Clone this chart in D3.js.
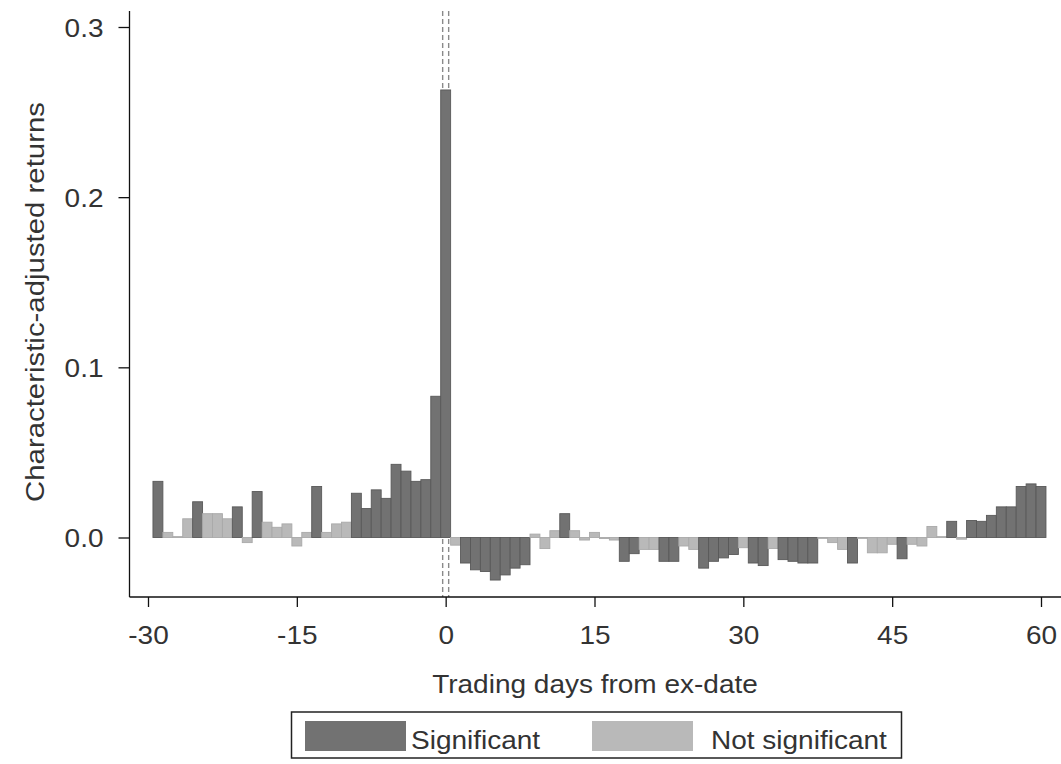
<!DOCTYPE html>
<html>
<head>
<meta charset="utf-8">
<script src="https://cdn.jsdelivr.net/npm/d3@7"></script>
<style>
  body { margin: 0; background: #fff; }
  svg { display: block; font-family: "Liberation Sans", Arial, sans-serif; }
</style>
</head>
<body>
<svg class="chart"></svg>
<script>
// first day shown on the chart, each following value is the next trading day
var firstDay = -29;

// characteristic-adjusted returns, days -29 .. 60
var returns = [
   0.033,  0.003,  0.0005, 0.011,  0.021,  0.014,  0.014,  0.011,  0.018, -0.003,
   0.027,  0.009,  0.006,  0.008, -0.005,  0.003,  0.030,  0.003,  0.008,  0.009,
   0.026,  0.017,  0.028,  0.023,  0.043,  0.039,  0.033,  0.034,  0.083,  0.263,
  -0.0045,-0.015, -0.019, -0.020, -0.025, -0.022, -0.018, -0.016,  0.002, -0.0065,
   0.004,  0.014,  0.004, -0.0015, 0.003, -0.0006,-0.0015,-0.014, -0.0095,-0.007,
  -0.007, -0.014, -0.014, -0.005, -0.007, -0.018, -0.014, -0.012, -0.010, -0.006,
  -0.015, -0.0165,-0.0065,-0.013, -0.014, -0.015, -0.015, -0.0005,-0.003, -0.007,
  -0.015, -0.0005,-0.009, -0.009, -0.004, -0.0125,-0.004, -0.005,  0.0065, 0.0005,
   0.0095,-0.001,  0.010,  0.0095, 0.013,  0.018,  0.018,  0.030,  0.0315, 0.030
];

// 1 = significant, 0 = not significant
var significant = [
  1,0,0,0,1,0,0,0,1,0,
  1,0,0,0,0,0,1,0,0,0,
  1,1,1,1,1,1,1,1,1,1,
  0,1,1,1,1,1,1,1,0,0,
  0,1,0,0,0,0,0,1,1,0,
  0,1,1,0,0,1,1,1,1,0,
  1,1,0,1,1,1,1,0,0,0,
  1,0,0,0,0,1,0,0,0,0,
  1,0,1,1,1,1,1,1,1,1
];

var xTicks = [-30, -15, 0, 15, 30, 45, 60];
var yTicks = [0.0, 0.1, 0.2, 0.3];
var legendLabels = ["Significant", "Not significant"];

var W = 1061, H = 764;
var stretch = 1.12;   // the original text is a bit wide
var darkFill = "#727272", darkLine = "#595959";
var lightFill = "#b9b9b9", lightLine = "#a9a9a9";

var svg = d3.select(".chart").attr("width", W).attr("height", H);

var data = returns.map(function(v, i) {
    return {day: firstDay + i, value: v, sig: significant[i]};
});

// scales (day -30 at 148px, day 60 at 1041px)
var x = d3.scaleLinear().domain([-30, 60]).range([148, 1041]);
var y = d3.scaleLinear().domain([0, 0.3]).range([537.5, 27]);
var unit = x(1) - x(0);
var plotLeft = 129.5, plotBottom = 597, plotTop = 11;

// ex-date marker: two dashed lines (behind the bars)
[-3, 3].forEach(function(off) {
    svg.append("line")
        .attr("x1", x(0) + off).attr("x2", x(0) + off)
        .attr("y1", plotTop).attr("y2", plotBottom)
        .attr("stroke", "#8a8a8a")
        .attr("stroke-width", 1.4)
        .attr("stroke-dasharray", "5,3");
});

// bars
svg.append("g").attr("class", "bars")
    .selectAll("rect")
    .data(data)
    .enter().append("rect")
    .attr("x", function(d) { return x(d.day) - unit / 2; })
    .attr("width", unit)
    .attr("y", function(d) { return y(Math.max(d.value, 0)); })
    .attr("height", function(d) { return Math.abs(y(d.value) - y(0)); })
    .attr("fill", function(d) { return d.sig ? darkFill : lightFill; })
    .attr("stroke", function(d) { return d.sig ? darkLine : lightLine; })
    .attr("stroke-width", 0.9);

// x axis
var xAxis = svg.append("g")
    .attr("transform", "translate(0," + plotBottom + ")")
    .call(d3.axisBottom(x).tickValues(xTicks).tickSize(10).tickPadding(19)
        .tickFormat(function(d) { return String(d); }));
xAxis.select(".domain").remove();
xAxis.append("line")
    .attr("x1", plotLeft).attr("x2", W)
    .attr("stroke", "#111").attr("stroke-width", 1.3);
xAxis.selectAll(".tick line").attr("stroke", "#111").attr("stroke-width", 1.3);
xAxis.selectAll(".tick text")
    .attr("fill", "#333")
    .attr("font-size", 25)
    .attr("font-family", "Liberation Sans, Arial, sans-serif")
    .attr("transform", "scale(" + stretch + ",1)");

// y axis
var yAxis = svg.append("g")
    .attr("transform", "translate(" + plotLeft + ",0)")
    .call(d3.axisLeft(y).tickValues(yTicks).tickSize(11).tickFormat(d3.format(".1f")));
yAxis.select(".domain").remove();
yAxis.append("line")
    .attr("y1", plotTop).attr("y2", plotBottom)
    .attr("stroke", "#111").attr("stroke-width", 1.3);
yAxis.selectAll(".tick line").attr("stroke", "#111").attr("stroke-width", 1.3);
yAxis.selectAll(".tick text")
    .attr("x", 0)
    .attr("dy", "0.36em")
    .attr("fill", "#333")
    .attr("font-size", 25)
    .attr("font-family", "Liberation Sans, Arial, sans-serif")
    .attr("transform", "translate(-26,0) scale(" + stretch + ",1)");

// axis titles
svg.append("text")
    .attr("transform", "translate(595,693) scale(" + stretch + ",1)")
    .attr("text-anchor", "middle")
    .attr("font-size", 25)
    .attr("fill", "#333")
    .text("Trading days from ex-date");

svg.append("text")
    .attr("transform", "translate(44,302) rotate(-90) scale(1.13,1)")
    .attr("text-anchor", "middle")
    .attr("font-size", 26)
    .attr("fill", "#333")
    .text("Characteristic-adjusted returns");

// legend
var legend = svg.append("g");
legend.append("rect")
    .attr("x", 291.5).attr("y", 712)
    .attr("width", 610).attr("height", 46)
    .attr("fill", "#fff")
    .attr("stroke", "#222").attr("stroke-width", 1.5);

var legendItems = [
    {label: legendLabels[0], fill: darkFill, sx: 305, tx: 411},
    {label: legendLabels[1], fill: lightFill, sx: 592, tx: 711}
];
legendItems.forEach(function(it) {
    legend.append("rect")
        .attr("x", it.sx).attr("y", 721)
        .attr("width", 101).attr("height", 30)
        .attr("fill", it.fill);
    legend.append("text")
        .attr("transform", "translate(" + it.tx + ",749) scale(" + stretch + ",1)")
        .attr("font-size", 25)
        .attr("fill", "#333")
        .text(it.label);
});
</script>
</body>
</html>
